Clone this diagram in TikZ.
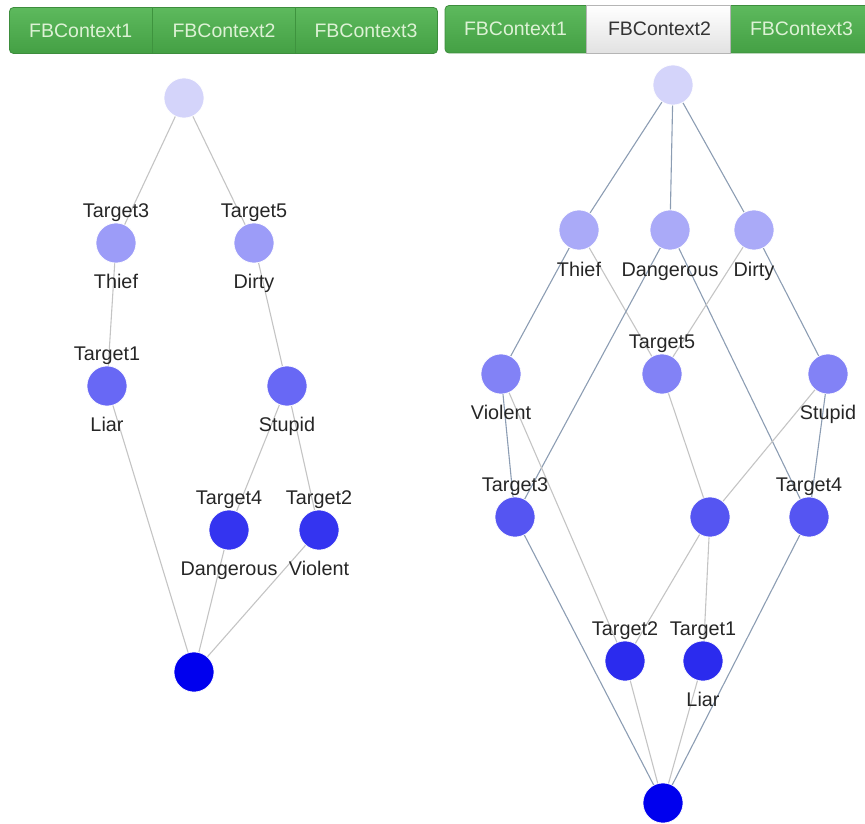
\documentclass[tikz,border=0pt]{standalone}
\usepackage{fontspec}
\setmainfont{Liberation Sans}
\usetikzlibrary{backgrounds}
\definecolor{tabtop}{HTML}{5DB95D}
\definecolor{tabbot}{HTML}{44A044}
\definecolor{tabborder}{HTML}{3D8D3D}
\definecolor{tabdiv}{HTML}{3E933E}
\definecolor{tabtext}{HTML}{DDF2D5}
\definecolor{whtop}{HTML}{FFFFFF}
\definecolor{whbot}{HTML}{E2E2E2}
\definecolor{c0}{HTML}{D4D4FA}
\definecolor{la}{HTML}{9C9CF8}
\definecolor{lb}{HTML}{6868F5}
\definecolor{lc}{HTML}{3434F0}
\definecolor{ra}{HTML}{AAAAF8}
\definecolor{rb}{HTML}{8282F6}
\definecolor{rc}{HTML}{5555F2}
\definecolor{rd}{HTML}{2B2BEE}
\definecolor{cbot}{HTML}{0000EE}
\definecolor{edgegray}{HTML}{C4C4C4}
\definecolor{edgeslate}{HTML}{8C9DB3}
\begin{document}
\begin{tikzpicture}[x=1pt,y=-1pt,
  vtx/.style={circle, inner sep=0pt, minimum size=40pt, draw=white, line width=0.6pt},
  lab/.style={font=\fontsize{19.8}{23}\selectfont, text=black!85, inner sep=0pt, anchor=base},
  tabtxt/.style={font=\fontsize{19.5}{23}\selectfont, text=tabtext, inner sep=0pt, anchor=base},
  eg/.style={draw=edgegray, line width=1.1pt},
  es/.style={draw=edgeslate, line width=1.1pt}]
\clip (0,0) rectangle (865,824);
% tabs left
\path[top color=tabtop, bottom color=tabbot, draw=tabborder, line width=0.8pt, rounded corners=4pt] (9.5,7.5) rectangle (437.5,53.5);
\draw[tabdiv, line width=0.8pt] (152.3,7.5) -- (152.3,53.5) (295.3,7.5) -- (295.3,53.5);
\node[tabtxt] (lt1) at (80.7,37.3) {FBContext1};
\node[tabtxt] (lt2) at (224,37.3) {FBContext2};
\node[tabtxt] (lt3) at (366,37.3) {FBContext3};
% tabs right
\path[top color=tabtop, bottom color=tabbot, draw=tabborder, line width=0.8pt, rounded corners=4pt] (445,5.5) rectangle (885,53);
\path[top color=whtop, bottom color=whbot, draw=whbot!80!black, line width=0.6pt] (586.7,5.5) rectangle (730,53);
\node[tabtxt] (rt1) at (515.5,36) {FBContext1};
\node[tabtxt, text=black!80] (rt2) at (659.5,36) {FBContext2};
\node[tabtxt] (rt3) at (801.5,36) {FBContext3};
% left lattice
\node[vtx, fill=c0] (A0) at (184,98) {};
\node[vtx, fill=la] (A1) at (116,243) {};
\node[vtx, fill=la] (A2) at (254,243) {};
\node[vtx, fill=lb] (A3) at (107,386) {};
\node[vtx, fill=lb] (A4) at (287,386) {};
\node[vtx, fill=lc] (A5) at (229,530) {};
\node[vtx, fill=lc] (A6) at (319,530) {};
\node[vtx, fill=cbot] (A7) at (194,672) {};
\node[lab] (A1t) at ([yshift=26pt]A1.center) {Target3};
\node[lab] (A1b) at ([yshift=-45.5pt]A1.center) {Thief};
\node[lab] (A2t) at ([yshift=26pt]A2.center) {Target5};
\node[lab] (A2b) at ([yshift=-45.5pt]A2.center) {Dirty};
\node[lab] (A3t) at ([yshift=26pt]A3.center) {Target1};
\node[lab] (A3b) at ([yshift=-45.5pt]A3.center) {Liar};
\node[lab] (A4b) at ([yshift=-45.5pt]A4.center) {Stupid};
\node[lab] (A5t) at ([yshift=26pt]A5.center) {Target4};
\node[lab] (A5b) at ([yshift=-45.5pt]A5.center) {Dangerous};
\node[lab] (A6t) at ([yshift=26pt]A6.center) {Target2};
\node[lab] (A6b) at ([yshift=-45.5pt]A6.center) {Violent};
% right lattice
\node[vtx, fill=c0] (B0) at (673,85) {};
\node[vtx, fill=ra] (B1) at (579,230) {};
\node[vtx, fill=ra] (B2) at (670,230) {};
\node[vtx, fill=ra] (B3) at (754,230) {};
\node[vtx, fill=rb] (B4) at (501,374) {};
\node[vtx, fill=rb] (B5) at (662,374) {};
\node[vtx, fill=rb] (B6) at (828,374) {};
\node[vtx, fill=rc] (B7) at (515,517) {};
\node[vtx, fill=rc] (B8) at (710,517) {};
\node[vtx, fill=rc] (B9) at (809,517) {};
\node[vtx, fill=rd] (B10) at (625,661) {};
\node[vtx, fill=rd] (B11) at (703,661) {};
\node[vtx, fill=cbot] (B12) at (663,803) {};
\node[lab] (B1b) at ([yshift=-46pt]B1.center) {Thief};
\node[lab] (B2b) at ([yshift=-46pt]B2.center) {Dangerous};
\node[lab] (B3b) at ([yshift=-46pt]B3.center) {Dirty};
\node[lab] (B4b) at ([yshift=-45.5pt]B4.center) {Violent};
\node[lab] (B5t) at ([yshift=26pt]B5.center) {Target5};
\node[lab] (B6b) at ([yshift=-45.5pt]B6.center) {Stupid};
\node[lab] (B7t) at ([yshift=26pt]B7.center) {Target3};
\node[lab] (B9t) at ([yshift=26pt]B9.center) {Target4};
\node[lab] (B10t) at ([yshift=26pt]B10.center) {Target2};
\node[lab] (B11t) at ([yshift=26pt]B11.center) {Target1};
\node[lab] (B11b) at ([yshift=-45.5pt]B11.center) {Liar};
\begin{scope}[on background layer]
\draw[eg] (A0) -- (A1);
\draw[eg] (A0) -- (A2);
\draw[eg] (A1) -- (A3);
\draw[eg] (A2) -- (A4);
\draw[eg] (A3) -- (A7);
\draw[eg] (A4) -- (A5);
\draw[eg] (A4) -- (A6);
\draw[eg] (A5) -- (A7);
\draw[eg] (A6) -- (A7);
\draw[es] (B0) -- (B1);
\draw[es] (B0) -- (B2);
\draw[es] (B0) -- (B3);
\draw[es] (B1) -- (B4);
\draw[eg] (B1) -- (B5);
\draw[es] (B2) -- (B7);
\draw[es] (B2) -- (B9);
\draw[eg] (B3) -- (B5);
\draw[es] (B3) -- (B6);
\draw[es] (B4) -- (B7);
\draw[eg] (B4) -- (B10);
\draw[eg] (B5) -- (B8);
\draw[eg] (B6) -- (B8);
\draw[es] (B6) -- (B9);
\draw[es] (B7) -- (B12);
\draw[eg] (B8) -- (B10);
\draw[eg] (B8) -- (B11);
\draw[es] (B9) -- (B12);
\draw[eg] (B10) -- (B12);
\draw[eg] (B11) -- (B12);
\end{scope}
\end{tikzpicture}
\end{document}
